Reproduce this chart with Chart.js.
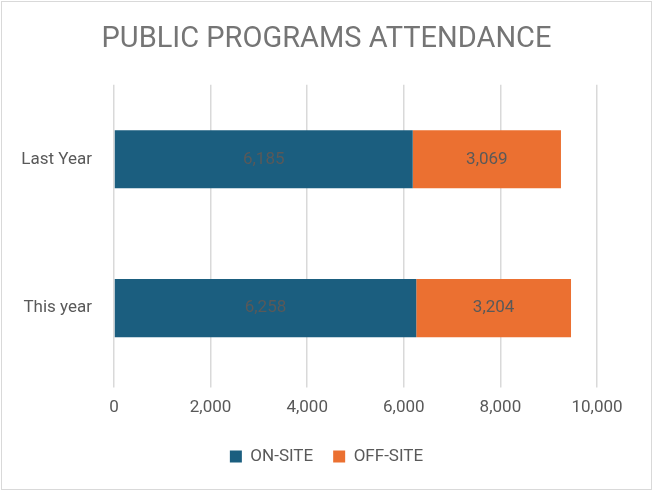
<!DOCTYPE html>
<html>
<head>
<meta charset="utf-8">
<script src="https://cdn.jsdelivr.net/npm/chart.js@4/dist/chart.umd.min.js"></script>
<style>
  html, body { margin: 0; padding: 0; background: #fff; }
  #wrap { width: 653px; height: 491px; }
</style>
</head>
<body>
<div id="wrap"><canvas id="chart1" width="653" height="491"></canvas></div>
<script>
const categories = ["Last Year", "This year"];
const onSite = [6185, 6258];
const offSite = [3069, 3204];
const xTicks = [0, 2000, 4000, 6000, 8000, 10000];

const textColor = "#595959";
const fontFamily = "Roboto, 'Liberation Sans', sans-serif";

// white background + thin grey frame like the Excel chart
const borderPlugin = {
  id: 'outerBorder',
  beforeDraw(chart) {
    const ctx = chart.ctx;
    ctx.save();
    ctx.fillStyle = '#fff';
    ctx.fillRect(0, 0, chart.width, chart.height);
    ctx.strokeStyle = '#d9d9d9';
    ctx.lineWidth = 1;
    ctx.strokeRect(1.5, 1.5, chart.width - 3, chart.height - 3);
    ctx.restore();
  }
};

// value labels centered in each bar segment
const barLabels = {
  id: 'barLabels',
  afterDatasetsDraw(chart) {
    const ctx = chart.ctx;
    ctx.save();
    ctx.font = "17px " + fontFamily;
    ctx.fillStyle = textColor;
    ctx.textAlign = 'center';
    ctx.textBaseline = 'middle';
    chart.data.datasets.forEach((ds, i) => {
      chart.getDatasetMeta(i).data.forEach((bar, j) => {
        const cx = (bar.x + bar.base) / 2;
        ctx.fillText(ds.data[j].toLocaleString('en-US'), cx, bar.y);
      });
    });
    ctx.restore();
  }
};

const data = {
  labels: categories,
  datasets: [
    { label: "ON-SITE", data: onSite, backgroundColor: "#1b5e7f", borderWidth: 0 },
    { label: "OFF-SITE", data: offSite, backgroundColor: "#eb7031", borderWidth: 0 }
  ]
};

new Chart(document.getElementById('chart1'), {
  type: 'bar',
  data: data,
  plugins: [borderPlugin, barLabels],
  options: {
    responsive: false,
    animation: false,
    indexAxis: 'y',
    layout: { padding: { left: 10, right: 10, top: 16, bottom: 16 } },
    datasets: { bar: { categoryPercentage: 1, barPercentage: 0.39 } },
    plugins: {
      title: {
        display: true,
        text: "PUBLIC PROGRAMS ATTENDANCE",
        color: "#757575",
        font: { family: fontFamily, size: 29, weight: 'normal' },
        padding: { top: 6, bottom: 28 }
      },
      legend: {
        position: 'bottom',
        labels: {
          color: textColor,
          font: { family: fontFamily, size: 17 },
          boxWidth: 12, boxHeight: 12,
          padding: 20
        }
      },
      tooltip: { enabled: false }
    },
    scales: {
      x: {
        stacked: true,
        min: 0, max: 10000,
        afterBuildTicks(scale) { scale.ticks = xTicks.map(v => ({ value: v })); },
        ticks: {
          color: textColor,
          font: { family: fontFamily, size: 17 },
          padding: 10,
          callback: v => v.toLocaleString('en-US')
        },
        grid: { color: '#d9d9d9', lineWidth: 1.5, tickLength: 5 },
        border: { display: false }
      },
      y: {
        stacked: true,
        afterFit(scale) { scale.width = 104; },
        ticks: {
          color: textColor,
          font: { family: fontFamily, size: 17 },
          padding: 14
        },
        grid: { display: false },
        border: { display: false }
      },
      // empty spacer on the right so the plot ends at 10,000 like the original
      yRight: {
        axis: 'y',
        type: 'category',
        position: 'right',
        display: true,
        afterFit(scale) { scale.width = 46; },
        ticks: { display: false },
        grid: { display: false },
        border: { display: false }
      }
    }
  }
});
</script>
</body>
</html>
